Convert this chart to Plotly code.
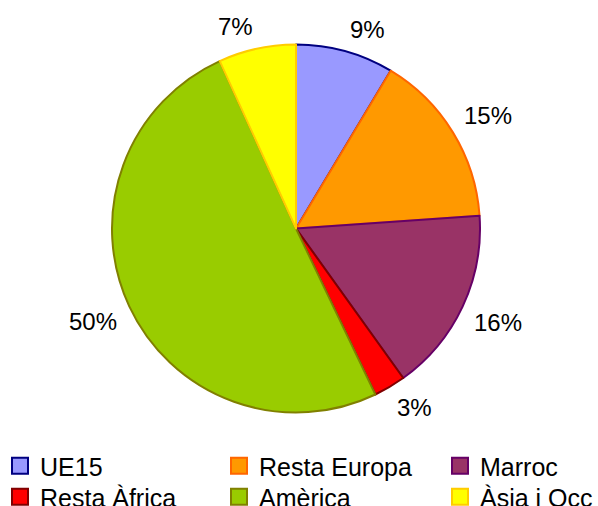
import math
import plotly.graph_objects as go

categories = ["UE15", "Resta Europa", "Marroc", "Resta Àfrica", "Amèrica", "Àsia i Occ"]
values = [8.6, 15.3, 16.2, 2.8, 50.3, 6.8]
fill_colors = ["#9999FF", "#FF9900", "#993366", "#FF0000", "#99CC00", "#FFFF00"]
line_colors = ["#000080", "#FF6600", "#660066", "#800000", "#808000", "#FFCC00"]

FONT = "Liberation Sans, Arial, sans-serif"
W, H = 598, 506

# pie geometry (pixels)
CX, CY, R = 296, 228.5, 184
LABEL_R = 195      # radius of the label's nearest corner
HALF_H = 11        # half of the label's glyph height

fig = go.Figure()
fig.add_trace(go.Pie(
    labels=categories, values=values, sort=False, direction="clockwise", rotation=0,
    marker=dict(colors=fill_colors, line=dict(color=line_colors, width=2)),
    textinfo="none",
    showlegend=False, hoverinfo="label+percent",
    domain=dict(x=[(CX - R) / W, (CX + R) / W], y=[1 - (CY + R) / H, 1 - (CY - R) / H]),
))

# percentage labels placed outside the slices, derived from the values
total = sum(values)
cum = 0.0
for v in values:
    theta = 2 * math.pi * (cum + v / 2) / total
    cum += v
    s, c = math.sin(theta), math.cos(theta)
    px = CX + LABEL_R * s
    py = CY - LABEL_R * c
    py += -HALF_H if c > 0 else HALF_H
    fig.add_annotation(
        x=px / W, y=1 - py / H, xref="paper", yref="paper",
        text=f"{round(100 * v / total)}%", showarrow=False,
        xanchor="left" if s > 0 else "right", yanchor="middle",
        font=dict(family=FONT, size=24, color="black"),
    )

# legend slot positions (left px, row centre px from top)
leg_x = [0, 219, 440, 0, 219, 440]
leg_y = [466, 466, 466, 497, 497, 497]

layout_legends = {}
for i, (cat, fc, lc) in enumerate(zip(categories, fill_colors, line_colors)):
    lname = "legend" if i == 0 else f"legend{i + 1}"
    fig.add_trace(go.Scatter(
        x=[None], y=[None], mode="markers", name=cat,
        marker=dict(symbol="square", size=16, color=fc, line=dict(color=lc, width=2)),
        legend=lname,
    ))
    layout_legends[lname] = dict(
        x=leg_x[i] / W, y=1 - leg_y[i] / H, xanchor="left", yanchor="middle",
        orientation="v", itemsizing="trace",
        font=dict(family=FONT, size=25, color="black"),
        bgcolor="rgba(0,0,0,0)", itemclick=False, itemdoubleclick=False,
    )

fig.update_layout(
    width=W, height=H,
    margin=dict(l=0, r=0, t=0, b=0, autoexpand=False),
    paper_bgcolor="white", plot_bgcolor="white",
    xaxis=dict(visible=False), yaxis=dict(visible=False),
    **layout_legends,
)

fig.write_html("out.html", config={"displayModeBar": False},
               post_script="document.body.style.margin='0';")
